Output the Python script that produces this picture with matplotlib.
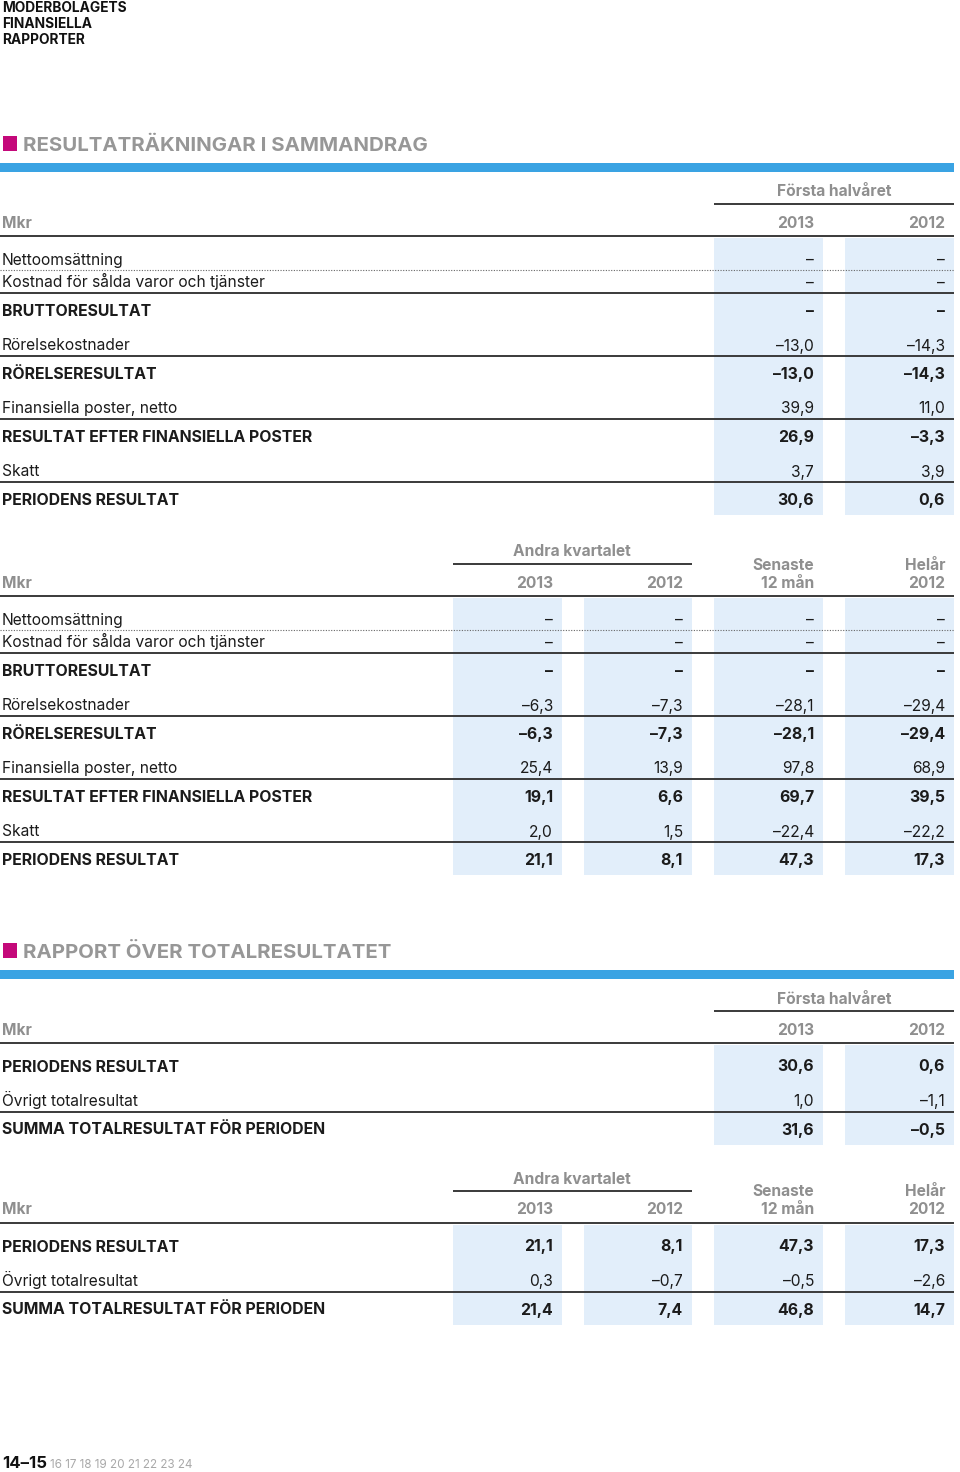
import matplotlib.pyplot as plt
from matplotlib.patches import Rectangle

plt.rcParams['font.family'] = ['Inter', 'DejaVu Sans']

# ---- data ----
inc_labels = ["Nettoomsättning", "Kostnad för sålda varor och tjänster", "BRUTTORESULTAT",
              "Rörelsekostnader", "RÖRELSERESULTAT", "Finansiella poster, netto",
              "RESULTAT EFTER FINANSIELLA POSTER", "Skatt", "PERIODENS RESULTAT"]
inc_bold = [False, False, True, False, True, False, True, False, True]
inc_rule = ["dot", "solid", None, "solid", None, "solid", None, "solid", None]

inc_h1_2013 = [None, None, None, -13.0, -13.0, 39.9, 26.9, 3.7, 30.6]
inc_h1_2012 = [None, None, None, -14.3, -14.3, 11.0, -3.3, 3.9, 0.6]
inc_q2_2013 = [None, None, None, -6.3, -6.3, 25.4, 19.1, 2.0, 21.1]
inc_q2_2012 = [None, None, None, -7.3, -7.3, 13.9, 6.6, 1.5, 8.1]
inc_ltm = [None, None, None, -28.1, -28.1, 97.8, 69.7, -22.4, 47.3]
inc_fy2012 = [None, None, None, -29.4, -29.4, 68.9, 39.5, -22.2, 17.3]

tot_labels = ["PERIODENS RESULTAT", "Övrigt totalresultat", "SUMMA TOTALRESULTAT FÖR PERIODEN"]
tot_bold = [True, False, True]
tot_rule = [None, "solid", None]

tot_h1_2013 = [30.6, 1.0, 31.6]
tot_h1_2012 = [0.6, -1.1, -0.5]
tot_q2_2013 = [21.1, 0.3, 21.4]
tot_q2_2012 = [8.1, -0.7, 7.4]
tot_ltm = [47.3, -0.5, 46.8]
tot_fy2012 = [17.3, -2.6, 14.7]

# ---- style ----
BLUE = "#3aa3e3"
MAGENTA = "#c4097a"
SHADE = "#e2eefa"
GREY = "#8f8f8f"
INK = "#1b1b1b"
RULE = "#3a3a3a"
FS = 11.2      # normal body text
FSB = 11.4     # bold rows
FSH = 11.2     # grey column headers

# column boxes (left, right) in pixels
COLS = [(453, 562), (584, 692), (714, 823), (845, 954)]


def fmt(v):
    if v is None:
        return "\u2013"
    s = f"{abs(v):.1f}".replace(".", ",")
    return ("\u2013" if v < 0 else "") + s


fig = plt.figure(figsize=(9.6, 14.72), dpi=100)
ax = fig.add_axes([0, 0, 1, 1])
ax.set_xlim(0, 960)
ax.set_ylim(1472, 0)
ax.axis("off")


def section_title(ytop, text):
    ax.add_patch(Rectangle((3, ytop), 14, 15, color=MAGENTA, lw=0))
    ax.text(23, ytop + 15.5, text, fontsize=14.7, fontweight="bold", color="#979797",
            va="baseline")


def blue_bar(y):
    ax.add_patch(Rectangle((0, y), 954, 9, color=BLUE, lw=0))


def hline(y, x0=0, x1=954, style="solid"):
    if style == "dot":
        ax.plot([x0, x1], [y, y], color="#666666", lw=0.8, ls=(0, (1, 1.4)))
    else:
        ax.plot([x0, x1], [y, y], color=RULE, lw=1.4, solid_capstyle="butt")


def grey(x, yb, txt, ha="right"):
    ax.text(x, yb, txt, fontsize=FSH, fontweight="bold", color=GREY, va="baseline", ha=ha)


def body(y0, y_end, labels, bold, rules, series, cols):
    for (l, r) in cols:
        ax.add_patch(Rectangle((l, y0 + 2), r - l, y_end - y0 - 2, color=SHADE, lw=0))
    y = y0 + 23
    for i, lab in enumerate(labels):
        w = "bold" if bold[i] else "normal"
        fs = FSB if bold[i] else FS
        ax.text(2, y + 5.5, lab, fontsize=fs, fontweight=w, color=INK, va="baseline")
        for s, (l, r) in zip(series, cols):
            ax.text(r - 9, y + 5.5, fmt(s[i]), fontsize=fs, fontweight=w, color=INK,
                    va="baseline", ha="right")
        if rules[i] == "dot":
            hline(y + 11, style="dot")
            y += 23
        elif rules[i] == "solid":
            hline(y + 11)
            y += 28.5
        else:
            y += 34.5


def head_half(ybar):
    grey(834, ybar + 33.5, "Första halvåret", ha="center")
    hline(ybar + 41, 714, 954)
    grey(2, ybar + 65, "Mkr", ha="left")
    for txt, (l, r) in zip(["2013", "2012"], COLS[2:]):
        grey(r - 9, ybar + 65, txt)
    hline(ybar + 73)
    return ybar + 73


def head_quarter(yt):
    grey(572, yt + 5.5, "Andra kvartalet", ha="center")
    hline(yt + 13, 453, 692)
    grey(814, yt + 18.5, "Senaste")
    grey(945, yt + 18.5, "Helår")
    grey(2, yt + 36.5, "Mkr", ha="left")
    for txt, (l, r) in zip(["2013", "2012", "12 mån", "2012"], COLS):
        grey(r - 9, yt + 36.5, txt)
    hline(yt + 45)
    return yt + 45


# page header
for k, t in enumerate(["MODERBOLAGETS", "FINANSIELLA", "RAPPORTER"]):
    ax.text(2, 12 + 16 * k, t, fontsize=9.9, fontweight="bold", color="#111111",
            va="baseline")

# income statement, first half
section_title(135.5, "RESULTATRÄKNINGAR I SAMMANDRAG")
blue_bar(163)
y = head_half(163)
body(y, 515, inc_labels, inc_bold, inc_rule, [inc_h1_2013, inc_h1_2012], COLS[2:])

# income statement, quarter
y = head_quarter(551)
body(y, 875, inc_labels, inc_bold, inc_rule,
     [inc_q2_2013, inc_q2_2012, inc_ltm, inc_fy2012], COLS)

# comprehensive income
section_title(942.5, "RAPPORT ÖVER TOTALRESULTATET")
blue_bar(970)
y = head_half(970)
body(y, 1145, tot_labels, tot_bold, tot_rule, [tot_h1_2013, tot_h1_2012], COLS[2:])

y = head_quarter(1178)
body(y, 1325, tot_labels, tot_bold, tot_rule,
     [tot_q2_2013, tot_q2_2012, tot_ltm, tot_fy2012], COLS)

# footer
ax.text(2, 1468.5, "14\u201315", fontsize=12, fontweight="bold", color="#111111",
        va="baseline")
ax.text(50, 1468.5, "16 17 18 19 20 21 22 23 24", fontsize=8.4, color="#a8a8a8",
        va="baseline")

fig.savefig("out.png", dpi=100)
